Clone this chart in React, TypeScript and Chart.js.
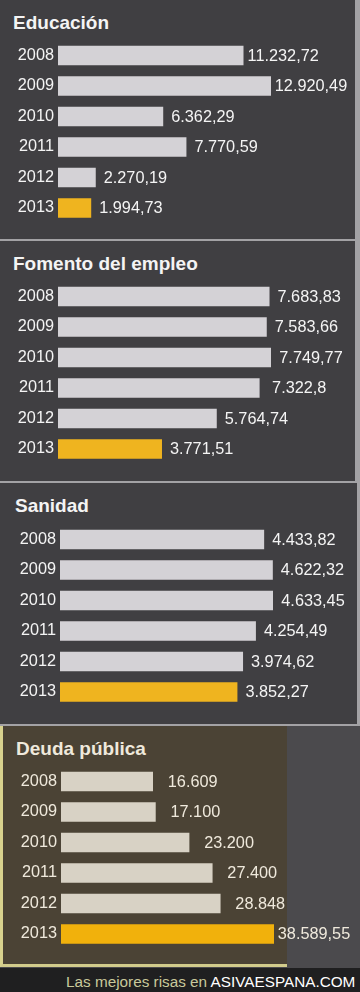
import React, { useEffect, useRef } from "react";
import { Chart, registerables } from "chart.js";

Chart.register(...registerables);

const years = ["2008", "2009", "2010", "2011", "2012", "2013"];
const educacion = [11232.72, 12920.49, 6362.29, 7770.59, 2270.19, 1994.73];
const empleo = [7683.83, 7583.66, 7749.77, 7322.8, 5764.74, 3771.51];
const sanidad = [4433.82, 4622.32, 4633.45, 4254.49, 3974.62, 3852.27];
const deuda = [16609, 17100, 23200, 27400, 28848, 38589.55];
const titles = ["Educación", "Fomento del empleo", "Sanidad", "Deuda pública"];
const footerLead = "Las mejores risas en ";
const footerSite = "ASIVAESPANA.COM";

const FONT = '"Liberation Sans", Arial, Helvetica, sans-serif';

function fmt(v: number): string {
  const [i, d] = String(v).split(".");
  const g = i.replace(/\B(?=(\d{3})+(?!\d))/g, ".");
  return d ? g + "," + d : g;
}

function valuePlugin(color: string) {
  return {
    id: "valueLabels",
    afterDatasetsDraw(chart: any) {
      const ctx = chart.ctx;
      const meta = chart.getDatasetMeta(0);
      const data = chart.data.datasets[0].data as number[];
      ctx.save();
      ctx.font = `16.3px ${FONT}`;
      ctx.fillStyle = color;
      ctx.textAlign = "center";
      ctx.textBaseline = "middle";
      meta.data.forEach((bar: any, i: number) => {
        ctx.fillText(fmt(data[i]), bar.x + 40, bar.y + 1);
      });
      ctx.restore();
    },
  };
}

type PanelProps = {
  title: string;
  values: number[];
  top: number;
  height: number;
  dx: number;
  textColor: string;
  barColor: string;
  hiColor: string;
  firstCenter: number;
};

function BarPanel(p: PanelProps) {
  const ref = useRef<HTMLCanvasElement>(null);
  useEffect(() => {
    const canvas = ref.current!;
    const step = 30.5;
    const areaTop = p.firstCenter - step / 2;
    const areaH = step * years.length;
    const chart = new Chart(canvas, {
      type: "bar",
      data: {
        labels: years,
        datasets: [
          {
            data: p.values,
            backgroundColor: p.values.map((_, i) => (i === p.values.length - 1 ? p.hiColor : p.barColor)),
            borderWidth: 0,
            barThickness: 19,
          },
        ],
      },
      options: {
        indexAxis: "y",
        responsive: false,
        maintainAspectRatio: false,
        animation: false,
        events: [],
        layout: { padding: { top: areaTop, bottom: p.height - areaTop - areaH, left: 0, right: 84 } },
        scales: {
          x: { type: "linear", display: false, min: 0, max: Math.max(...p.values) },
          y: {
            type: "category",
            offset: true,
            grid: { display: false, drawTicks: false },
            border: { display: false },
            ticks: { color: p.textColor, font: { family: FONT, size: 16.3 }, padding: 4 },
            afterFit: (s: any) => {
              s.width = 58;
            },
          },
        },
        plugins: { legend: { display: false }, tooltip: { enabled: false }, title: { display: false } },
      } as any,
      plugins: [valuePlugin(p.textColor)],
    });
    return () => chart.destroy();
  }, []);
  return (
    <div style={{ position: "absolute", left: 0, top: p.top, width: 360, height: p.height }}>
      <div
        style={{
          position: "absolute",
          left: 13 + p.dx,
          top: 13,
          font: `bold 19px/19px ${FONT}`,
          color: p.textColor,
          whiteSpace: "nowrap",
        }}
      >
        {p.title}
      </div>
      <canvas ref={ref} width={355} height={p.height} style={{ position: "absolute", left: p.dx, top: 0 }} />
    </div>
  );
}

export default function App() {
  const grayBar = "#d4d2d6";
  const yellow = "#efb41f";
  const panelBg = "#403f42";
  return (
    <div
      style={{
        position: "absolute",
        left: 0,
        top: 0,
        width: 360,
        height: 992,
        overflow: "hidden",
        background: "#a3a2a5",
        fontFamily: FONT,
      }}
    >
      <div style={{ position: "absolute", left: 0, top: 0, width: 355, height: 239, background: panelBg }} />
      <div style={{ position: "absolute", left: 0, top: 241, width: 355, height: 240, background: panelBg }} />
      <div style={{ position: "absolute", left: 0, top: 483, width: 357, height: 241, background: panelBg }} />
      <div style={{ position: "absolute", left: 0, top: 726, width: 360, height: 242, background: "#4b4a4d" }} />
      <div
        style={{
          position: "absolute",
          left: 0,
          top: 726,
          width: 284,
          height: 238,
          background: "#4b4335",
          borderLeft: "3px solid #d8d28e",
          borderBottom: "3px solid #d2cc8c",
        }}
      />
      <BarPanel title={titles[0]} values={educacion} top={0} height={239} dx={0} textColor="#f4f4f4" barColor={grayBar} hiColor={yellow} firstCenter={55.5} />
      <BarPanel title={titles[1]} values={empleo} top={241} height={240} dx={0} textColor="#f4f4f4" barColor={grayBar} hiColor={yellow} firstCenter={55.5} />
      <BarPanel title={titles[2]} values={sanidad} top={483} height={241} dx={2} textColor="#f4f4f4" barColor={grayBar} hiColor={yellow} firstCenter={56.5} />
      <BarPanel title={titles[3]} values={deuda} top={726} height={242} dx={3} textColor="#efe9dc" barColor="#d8d2c5" hiColor="#f1b10c" firstCenter={55.5} />
      <div
        style={{
          position: "absolute",
          left: 0,
          top: 968,
          width: 360,
          height: 24,
          background: "#1f1f20",
          overflow: "hidden",
          whiteSpace: "nowrap",
        }}
      >
        <div style={{ position: "absolute", left: 66, top: 0, font: `15.3px/28px ${FONT}` }}>
          <span style={{ color: "#c9c99b" }}>{footerLead}</span>
          <span style={{ color: "#ffffff" }}>{footerSite}</span>
        </div>
      </div>
    </div>
  );
}
